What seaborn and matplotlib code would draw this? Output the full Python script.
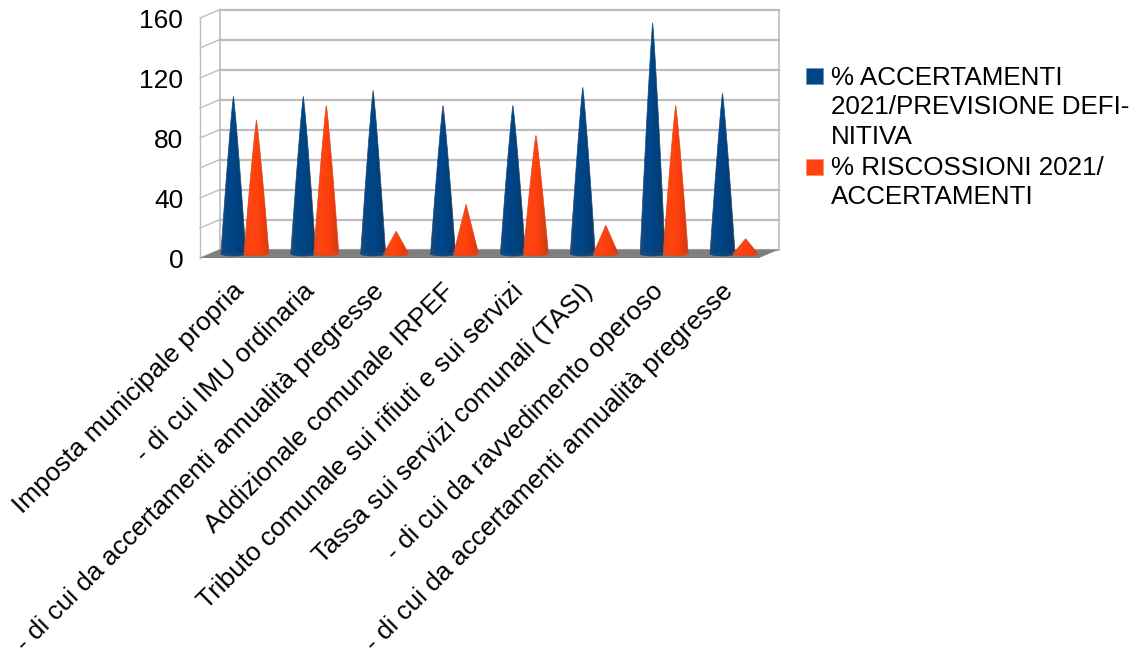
import matplotlib
matplotlib.use('Agg')
import matplotlib.pyplot as plt
from matplotlib.colors import LinearSegmentedColormap
from matplotlib.patches import Polygon, Rectangle
from matplotlib.transforms import ScaledTranslation
import numpy as np
import pandas as pd
import seaborn as sns

# DATA

categories = [
    'Imposta municipale propria',
    '- di cui IMU ordinaria',
    '- di cui da accertamenti annualità pregresse',
    'Addizionale comunale IRPEF',
    'Tributo comunale sui rifiuti e sui servizi',
    'Tassa sui servizi comunali (TASI)',
    '- di cui da ravvedimento operoso',
    '- di cui da accertamenti annualità pregresse ',
]
accertamenti = [105, 105, 109, 99, 99, 111, 154, 107]
riscossioni = [89, 99, 15, 33, 79, 19, 99, 10]
series_names = ['% ACCERTAMENTI\n2021/PREVISIONE DEFI-\nNITIVA', '% RISCOSSIONI 2021/\nACCERTAMENTI']
y_ticks = [0, 40, 80, 120, 160]
grid_ticks = [0, 20, 40, 60, 80, 100, 120, 140, 160]

W, H = 1139, 651
BLUE = '#004586'
ORANGE = '#ff420e'
FONT = 'Liberation Sans'

plt.rcParams['font.family'] = [FONT, 'DejaVu Sans']

df = pd.DataFrame({
    'cat': categories * 2,
    'val': accertamenti + riscossioni,
    'serie': [series_names[0]] * 8 + [series_names[1]] * 8,
})

fig = plt.figure(figsize=(W / 100, H / 100), dpi=100)
# front plane of the 3d box: x 200-759, y 18-258
ax = fig.add_axes([200 / W, 1 - 258 / H, 559 / W, 240 / H])

sns.barplot(data=df, x='cat', y='val', hue='serie', order=categories,
            hue_order=series_names, palette=[BLUE, ORANGE], width=0.66,
            legend=False, ax=ax)
ax.set_xlim(-0.5, 7.5)
ax.set_ylim(0, 160)

# depth of the box in data units
px_x = 8 / 559
px_y = 160 / 240
dx = 20 * px_x
dy = 8.5 * px_y

# WALLS AND FLOOR

grid_c = '#bdbdbd'
for t in grid_ticks:
    ax.plot([-0.5, -0.5 + dx], [t, t + dy], color=grid_c, lw=1, clip_on=False, zorder=1)
    ax.plot([-0.5 + dx, 7.5 + dx], [t + dy, t + dy], color=grid_c, lw=1.6, clip_on=False, zorder=1)
ax.plot([-0.5, -0.5], [0, 160], color=grid_c, lw=1, clip_on=False, zorder=1)
ax.plot([-0.5 + dx, -0.5 + dx], [dy, 160 + dy], color=grid_c, lw=1.2, clip_on=False, zorder=1)
ax.plot([7.5 + dx, 7.5 + dx], [dy, 160 + dy], color=grid_c, lw=1.2, clip_on=False, zorder=1)
ax.add_patch(Polygon([(-0.5, 0), (7.5, 0), (7.5 + dx, dy), (-0.5 + dx, dy)],
                     closed=True, facecolor='#7f7f7f', edgecolor='none', clip_on=False, zorder=1.5))

# CONES: the seaborn bars give position and height, the bar itself is hidden

cmaps = [
    LinearSegmentedColormap.from_list('b', ['#1c4a78', '#00468a', '#004586', '#003f7a', '#143a60']),
    LinearSegmentedColormap.from_list('o', ['#e8481c', '#ff4510', '#ff420e', '#f03c0a', '#c04020']),
]
edge_colors = ['#1a4a7a', '#e0481c']
grad = np.linspace(0, 1, 64).reshape(1, -1)
theta = np.linspace(np.pi, 2 * np.pi, 30)
fr = np.linspace(0, 1, 30)
bars = list(ax.patches)[:16]
base_y = dy / 2
drop = 2.2 * px_y
half = 12.5 * px_x

for i, bar in enumerate(bars):
    xc = bar.get_x() + bar.get_width() / 2 + dx / 2
    top = bar.get_height() + base_y
    bar.set_visible(False)
    z = 3 + i % 8 + (i // 8) * 0.5
    # tall cones bulge a little, short ones stay straight
    bulge = 0.87 if bar.get_height() > 40 else 1.0
    left = [(xc - half * f ** bulge, top - (top - base_y) * f) for f in fr]
    bottom = [(xc + half * np.cos(a + np.pi), base_y + drop * np.sin(a)) for a in theta]
    right = [(xc + half * f ** bulge, top - (top - base_y) * f) for f in fr[::-1]]
    pts = left + bottom + right
    poly = Polygon(pts, closed=True, transform=ax.transData, facecolor='none', edgecolor='none')
    ax.add_patch(poly)
    im = ax.imshow(grad, cmap=cmaps[i // 8], aspect='auto', interpolation='bilinear',
                   extent=[xc - half, xc + half, base_y - drop, top], zorder=z)
    im.set_clip_path(poly)
    # thin outline to smooth the clipped edge
    ax.add_patch(Polygon(pts, closed=True, facecolor='none', edgecolor=edge_colors[i // 8],
                         lw=0.5, zorder=z + 0.1))

ax.set_xlim(-0.5, 7.5)
ax.set_ylim(0, 160)

# AXES TEXT

sns.despine(ax=ax, left=True, bottom=True)
ax.set_xlabel('')
ax.set_ylabel('')
ax.set_yticks(y_ticks)
ax.tick_params(axis='y', length=0, pad=12, labelsize=19)
ax.set_xticks(range(len(categories)))
ax.set_xticklabels([c.strip() for c in categories], rotation=45, ha='right', va='top',
                   rotation_mode='anchor', fontsize=18.9)
ax.tick_params(axis='x', length=0, pad=15)
shift = ScaledTranslation(-3 / 100, 0, fig.dpi_scale_trans)
for lab in ax.get_xticklabels():
    lab.set_transform(lab.get_transform() + shift)
ax.patch.set_alpha(0)

# LEGEND

fig.add_artist(Rectangle((806 / W, 1 - 84 / H), 16.5 / W, 16 / H, facecolor=BLUE,
                         edgecolor='#6a93bb', lw=0.6, transform=fig.transFigure))
fig.add_artist(Rectangle((806 / W, 1 - 175 / H), 16.5 / W, 16 / H, facecolor=ORANGE,
                         edgecolor='#ff9070', lw=0.6, transform=fig.transFigure))
fig.text(831 / W, 1 - 66 / H, series_names[0], fontsize=18.7, va='top', ha='left', linespacing=1.28)
fig.text(831 / W, 1 - 156 / H, series_names[1], fontsize=18.7, va='top', ha='left', linespacing=1.28)

fig.savefig('out.png', dpi=100)
